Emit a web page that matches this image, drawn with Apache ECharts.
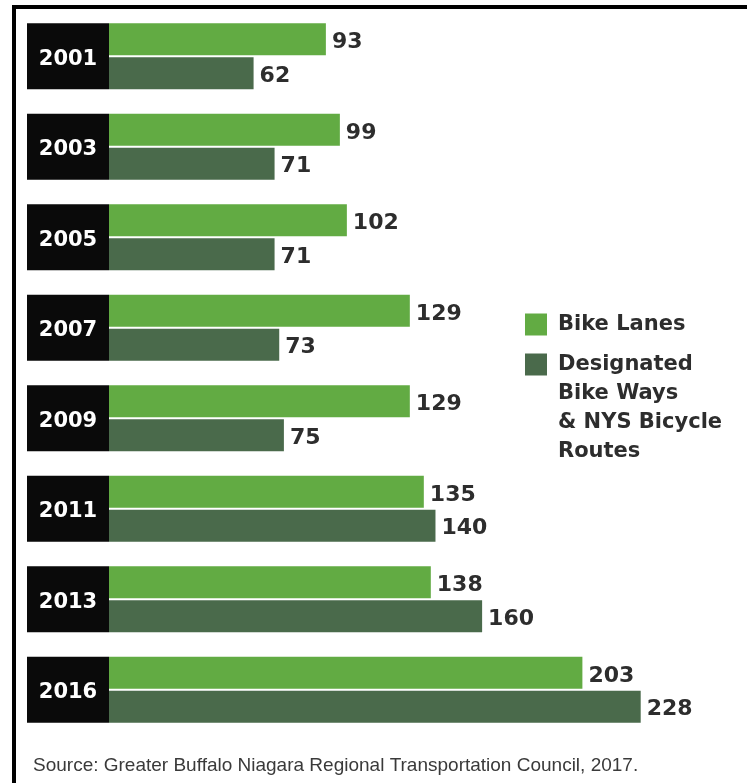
<!DOCTYPE html>
<html>
<head>
<meta charset="utf-8">
<script src="https://cdn.jsdelivr.net/npm/echarts@6/dist/echarts.min.js"></script>
<style>
  html, body { margin: 0; padding: 0; background: #fff; }
  #main { position: absolute; left: 0; top: 0; width: 747px; height: 783px; }
  #frame { position: absolute; left: 12px; top: 5px; width: 760px; height: 800px;
           border-top: 4px solid #000; border-left: 4px solid #000; pointer-events: none; }
</style>
</head>
<body>
<div id="main"></div>
<div id="frame"></div>
<script>
// data
const years = ['2001', '2003', '2005', '2007', '2009', '2011', '2013', '2016'];
const bikeLanes = [93, 99, 102, 129, 129, 135, 138, 203];
const bikeWays = [62, 71, 71, 73, 75, 140, 160, 228];
const seriesNames = ['Bike Lanes', 'Designated\nBike Ways\n& NYS Bicycle\nRoutes'];

const font = "'DejaVu Sans', sans-serif";
const lightGreen = '#62ab43';
const darkGreen = '#4a6a4b';

const valueLabel = {
    show: true,
    position: 'right',
    distance: 6,
    offset: [0, 3],
    color: '#2d2d2d',
    fontFamily: font,
    fontWeight: 'bold',
    fontSize: 22
};

const legendText = {
    fontFamily: font, fontWeight: 'bold', fontSize: 21, color: '#2d2d2d',
    lineHeight: 29, padding: [0, 0, 0, 6]
};

const chart = echarts.init(document.getElementById('main'));
chart.setOption({
    animation: false,
    title: {
        text: 'Source: Greater Buffalo Niagara Regional Transportation Council, 2017.',
        left: 33,
        top: 756,
        padding: 0,
        textStyle: {
            fontFamily: "'Liberation Sans Narrow', 'Liberation Sans', sans-serif",
            fontWeight: 'normal',
            fontSize: 19,
            color: '#3a3a3a'
        }
    },
    legend: [{
        data: [seriesNames[0]],
        left: 525,
        top: 310,
        padding: 0,
        itemWidth: 22,
        itemHeight: 22,
        icon: 'rect',
        textStyle: legendText
    }, {
        data: [seriesNames[1]],
        left: 525,
        top: 263,
        padding: 0,
        itemWidth: 22,
        itemHeight: 22,
        icon: 'rect',
        // blank lines on top so the first line sits beside the square
        formatter: name => '\n\n\n' + name,
        textStyle: legendText
    }],
    grid: { left: 109, right: 55, top: 11, bottom: 48 },
    xAxis: {
        type: 'value',
        min: 0,
        max: 250,
        show: false
    },
    yAxis: {
        type: 'category',
        data: years,
        inverse: true,
        axisLine: { show: false },
        axisTick: { show: false },
        axisLabel: {
            interval: 0,
            margin: 0,
            formatter: v => '{y|' + v + '}',
            rich: {
                y: {
                    width: 82,
                    height: 60,
                    lineHeight: 60,
                    padding: [6, 0, 0, 0],
                    align: 'center',
                    backgroundColor: '#0a0a0a',
                    color: '#fff',
                    fontFamily: font,
                    fontWeight: 'bold',
                    fontSize: 21
                }
            }
        }
    },
    series: [{
        name: seriesNames[0],
        type: 'bar',
        data: bikeLanes,
        barWidth: 32,
        barGap: '6%',
        itemStyle: { color: lightGreen },
        label: valueLabel
    }, {
        name: seriesNames[1],
        type: 'bar',
        data: bikeWays,
        barWidth: 32,
        itemStyle: { color: darkGreen },
        label: valueLabel
    }]
});
</script>
</body>
</html>
